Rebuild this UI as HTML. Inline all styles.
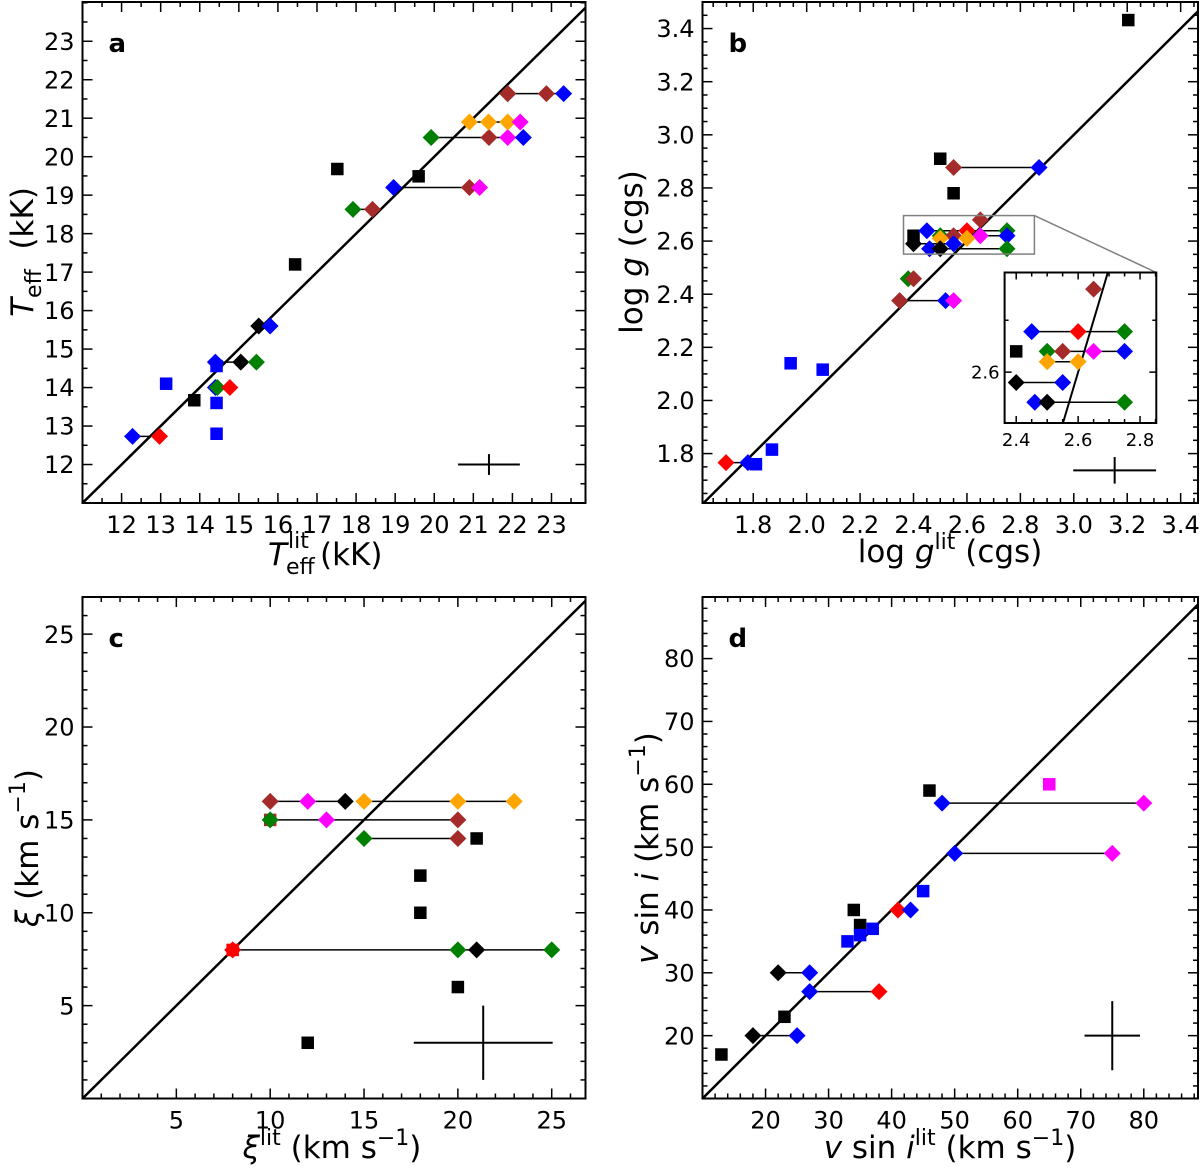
<!DOCTYPE html>
<html><head><meta charset="utf-8"><style>
html,body{margin:0;padding:0;background:#fff;overflow:hidden;width:1200px;height:1169px;}
svg{display:block;font-family:"DejaVu Sans","Liberation Sans",sans-serif;}
</style></head><body>
<svg id="fig" width="1200" height="1169" viewBox="0 0 1200 1169" xmlns="http://www.w3.org/2000/svg">
<g>
<g transform="translate(33,252) rotate(-90)">
<text x="0" y="0" text-anchor="middle" font-size="31"><tspan font-style="italic">T</tspan><tspan font-size="22" dy="8">eff</tspan><tspan dy="-8" xml:space="preserve">  (kK)</tspan></text>
</g>
<g>
<text x="268" y="565" font-size="31" font-style="italic">T</text>
<text x="288" y="548" font-size="22">lit</text>
<text x="286" y="574" font-size="22">eff</text>
<text x="320" y="565" font-size="31">(kK)</text>
</g>
</g>
<g>
<text transform="translate(642,252) rotate(-90)" text-anchor="middle" font-size="31">log <tspan font-style="italic">g</tspan> (cgs)</text>
<text x="950" y="562" text-anchor="middle" font-size="31">log  <tspan font-style="italic">g</tspan><tspan font-size="22" dy="-13">lit</tspan><tspan dy="13"> (cgs)</tspan></text>
</g>
<g>
<text transform="translate(38,848) rotate(-90)" text-anchor="middle" font-size="31"><tspan font-style="italic">ξ</tspan> (km s<tspan font-size="22" dy="-13">−1</tspan><tspan dy="13">)</tspan></text>
<text x="332" y="1158" text-anchor="middle" font-size="31"><tspan font-style="italic">ξ</tspan><tspan font-size="22" dy="-13">lit</tspan><tspan dy="13"> (km s</tspan><tspan font-size="22" dy="-13">−1</tspan><tspan dy="13">)</tspan></text>
</g>
<g>
<text transform="translate(658,848) rotate(-90)" text-anchor="middle" font-size="31"><tspan font-style="italic">v</tspan> sin <tspan font-style="italic">i</tspan> (km s<tspan font-size="22" dy="-13">−1</tspan><tspan dy="13">)</tspan></text>
<text x="950" y="1158" text-anchor="middle" font-size="31"><tspan font-style="italic">v</tspan> sin <tspan font-style="italic">i</tspan><tspan font-size="22" dy="-13">lit</tspan><tspan dy="13"> (km s</tspan><tspan font-size="22" dy="-13">−1</tspan><tspan dy="13">)</tspan></text>
</g>
</svg>
<script>
// ---------- Panel a data ----------
const aGroupY = [12.73, 14.66, 14.0, 15.6, 18.63, 19.2, 20.5, 20.9, 21.64];
const aGroupX = [[12.28,12.97],[14.4,15.05,15.45],[14.4,14.45,14.77],[15.51,15.8],[17.92,18.42],[18.96,20.9,21.16],[19.92,21.4,21.88,22.28],[20.9,21.39,21.88,22.2],[21.88,21.88,22.87,23.31]];
const aGroupC = [["b","r"],["b","k","g"],["b","g","r"],["k","b"],["g","br"],["b","br","m"],["g","br","m","b"],["o","o","o","m"],["k","br","br","b"]];
const aSqX = [13.14, 13.86, 14.43, 14.43, 14.43, 16.44, 17.52, 19.6];
const aSqY = [14.1, 13.67, 14.56, 13.6, 12.8, 17.2, 19.68, 19.49];
const aSqC = ["b","k","b","b","b","k","k","k"];
const aErr = [21.4, 12.0, 0.79, 0.27];
const aXTicks = [12,13,14,15,16,17,18,19,20,21,22,23];
const aYTicks = [12,13,14,15,16,17,18,19,20,21,22,23];

// ---------- Panel b data ----------
const bGroupY = [1.766, 2.376, 2.458, 2.877, 2.68, 2.639, 2.62, 2.61, 2.59, 2.571];
const bGroupX = [[1.698,1.78],[2.348,2.52,2.55],[2.38,2.40],[2.55,2.87],[2.65],[2.45,2.6,2.75],[2.5,2.55,2.65,2.75],[2.5,2.6],[2.4,2.55],[2.46,2.5,2.75]];
const bGroupC = [["r","b"],["br","b","m"],["g","br"],["br","b"],["br"],["b","r","g"],["g","br","m","b"],["o","o"],["k","b"],["b","k","g"]];
const bSqX = [1.81, 1.87, 1.94, 2.06, 2.5, 2.55, 2.4, 3.204];
const bSqY = [1.76, 1.815, 2.14, 2.116, 2.91, 2.78, 2.62, 3.432];
const bSqC = ["b","b","b","b","k","k","k","k"];
const bErr = [3.153, 1.737, 0.155, 0.05];
const bXTicks = [1.8,2.0,2.2,2.4,2.6,2.8,3.0,3.2,3.4];
const bYTicks = [1.8,2.0,2.2,2.4,2.6,2.8,3.0,3.2,3.4];
const bInsetXTicks = [2.4,2.6,2.8];
const bInsetYTicks = [2.6];

// ---------- Panel c data ----------
const cGroupY = [16, 16, 15, 14, 8];
const cGroupX = [[10,12,14],[15,20,23],[10,13,20],[15,20],[8,20,21,25]];
const cGroupC = [["br","m","k"],["o","o","o"],["g","m","br"],["g","br"],["r","g","k","g"]];
const cSqX = [10, 21, 18, 18, 20, 12, 8];
const cSqY = [15, 14, 12, 10, 6, 3, 8];
const cSqC = ["br","k","k","k","k","k","r"];
const cErr = [21.35, 3, 3.7, 2];
const cXTicks = [5,10,15,20,25];
const cYTicks = [5,10,15,20,25];

// ---------- Panel d data ----------
const dGroupY = [20, 30, 27, 40, 57, 49];
const dGroupX = [[18,25],[22,27],[27,38],[41,43],[48,80],[50,75]];
const dGroupC = [["k","b"],["k","b"],["b","r"],["r","b"],["b","m"],["b","m"]];
const dSqX = [13, 23, 35, 34, 33, 35, 37, 45, 46, 65];
const dSqY = [17, 23, 37.6, 40, 35, 36, 37, 43, 59, 60];
const dSqC = ["k","k","k","k","b","b","b","b","k","m"];
const dErr = [75, 20, 4.4, 5.5];
const dXTicks = [20,30,40,50,60,70,80];
const dYTicks = [20,30,40,50,60,70,80];

const COL = {b:"#0000ff", r:"#ff0000", g:"#008000", br:"#a52a2a", m:"#ff00ff", o:"#ffa500", k:"#000000"};
const NS = "http://www.w3.org/2000/svg";
const svg = document.getElementById("fig");

function mk(tag, attrs, parent){
  const e = document.createElementNS(NS, tag);
  for (const k in attrs) e.setAttribute(k, attrs[k]);
  parent.appendChild(e);
  return e;
}

function panel(cfg){
  const g = mk("g", {}, svg);
  
  
  const X = v => cfg.x0 + (v - cfg.dx[0]) / (cfg.dx[1] - cfg.dx[0]) * (cfg.x1 - cfg.x0);
  const Y = v => cfg.y1 - (v - cfg.dy[0]) / (cfg.dy[1] - cfg.dy[0]) * (cfg.y1 - cfg.y0);
  const clipId = "clip" + cfg.id;
  const cp = mk("clipPath", {id: clipId}, g);
  mk("rect", {x: cfg.x0, y: cfg.y0, width: cfg.x1 - cfg.x0, height: cfg.y1 - cfg.y0}, cp);
  const plot = mk("g", {"clip-path": "url(#" + clipId + ")"}, g);
  const lo = Math.max(cfg.dx[0], cfg.dy[0]), hi = Math.min(cfg.dx[1], cfg.dy[1]) + 1;
  const diag = mk("line", {x1: X(lo), y1: Y(lo), x2: X(hi), y2: Y(hi), stroke: "#000", "stroke-width": cfg.inset ? 2 : 2.5}, plot);
  
  
  cfg.gy.forEach((yv, i) => {
    const xs = cfg.gx[i];
    if (xs.length > 1) {
      const mn = Math.min(...xs), mx = Math.max(...xs);
      const ln = mk("line", {x1: X(mn), y1: Y(yv), x2: X(mx), y2: Y(yv), stroke: "#000", "stroke-width": 1.5}, plot);
      
      
    }
  });
  const ds = 8.5, ss = 12.5;
  cfg.sx.forEach((xv, i) => {
    const r = mk("rect", {x: X(xv) - ss/2, y: Y(cfg.sy[i]) - ss/2, width: ss, height: ss, fill: COL[cfg.sc[i]]}, plot);
    
    
  });
  cfg.gy.forEach((yv, i) => {
    cfg.gx[i].forEach((xv, j) => {
      const cx = X(xv), cy = Y(yv);
      const p = mk("polygon", {points: `${cx},${cy-ds} ${cx+ds},${cy} ${cx},${cy+ds} ${cx-ds},${cy}`, fill: COL[cfg.gc[i][j]]}, plot);
      
      
    });
  });
  mk("rect", {x: cfg.x0, y: cfg.y0, width: cfg.x1 - cfg.x0, height: cfg.y1 - cfg.y0, fill: "none", stroke: "#000", "stroke-width": 2}, g);
  const tk = mk("g", {stroke: "#000", "stroke-width": 1.5}, g);
  const maj = cfg.inset ? 7 : 10, mnr = cfg.inset ? 4 : 5;
  for (let v = Math.ceil(cfg.dx[0] / cfg.mx - 1e-9) * cfg.mx; v <= cfg.dx[1] + 1e-9; v += cfg.mx) {
    const isMaj = cfg.xt.some(t => Math.abs(t - v) < 1e-6) || (cfg.majx && Math.abs(Math.round(v / cfg.majx) * cfg.majx - v) < 1e-6);
    const L = isMaj ? maj : mnr, px = X(v);
    mk("line", {x1: px, y1: cfg.y1, x2: px, y2: cfg.y1 - L}, tk);
    mk("line", {x1: px, y1: cfg.y0, x2: px, y2: cfg.y0 + L}, tk);
  }
  for (let v = Math.ceil(cfg.dy[0] / cfg.my - 1e-9) * cfg.my; v <= cfg.dy[1] + 1e-9; v += cfg.my) {
    const isMaj = cfg.yt.some(t => Math.abs(t - v) < 1e-6) || (cfg.majy && Math.abs(Math.round(v / cfg.majy) * cfg.majy - v) < 1e-6);
    const L = isMaj ? maj : mnr, py = Y(v);
    mk("line", {x1: cfg.x0, y1: py, x2: cfg.x0 + L, y2: py}, tk);
    mk("line", {x1: cfg.x1, y1: py, x2: cfg.x1 - L, y2: py}, tk);
  }
  const fs = cfg.inset ? 18 : 24;
  cfg.xt.forEach(v => {
    const t = mk("text", {x: X(v), y: cfg.y1 + (cfg.inset ? 23 : 30), "text-anchor": "middle", "font-size": fs}, g);
    t.textContent = cfg.fmt(v);
    
    
  });
  cfg.yt.forEach(v => {
    const t = mk("text", {x: cfg.x0 - (cfg.inset ? 5 : 8), y: Y(v) + fs * 0.36, "text-anchor": "end", "font-size": fs}, g);
    t.textContent = cfg.fmt(v);
    
    
  });
  if (cfg.err) {
    const e = cfg.err;
    const eg = mk("g", {stroke: "#000", "stroke-width": 2}, g);
    
    
    mk("line", {x1: X(e[0] - e[2]), y1: Y(e[1]), x2: X(e[0] + e[2]), y2: Y(e[1])}, eg);
    mk("line", {x1: X(e[0]), y1: Y(e[1] - e[3]), x2: X(e[0]), y2: Y(e[1] + e[3])}, eg);
  }
  if (cfg.letter) {
    const t = mk("text", {x: cfg.x0 + 26, y: cfg.y0 + 50, "font-size": 26, "font-weight": "bold"}, g);
    t.textContent = cfg.letter;
    
    
  }
  return {X, Y};
}

const fInt = v => String(v);
const f1 = v => v.toFixed(1);

panel({id:"a", x0:82.5, x1:585.5, y0:2, y1:503, dx:[11,23.87], dy:[11,24.02], mx:0.5, my:0.5,
  xt:aXTicks, yt:aYTicks, fmt:fInt, gy:aGroupY, gx:aGroupX, gc:aGroupC, sx:aSqX, sy:aSqY, sc:aSqC, err:aErr, letter:"a"});
const pb = panel({id:"b", x0:702.5, x1:1198, y0:2, y1:503, dx:[1.61,3.465], dy:[1.614,3.50], mx:0.05, my:0.05,
  xt:bXTicks, yt:bYTicks, fmt:f1, gy:bGroupY, gx:bGroupX, gc:bGroupC, sx:bSqX, sy:bSqY, sc:bSqC, err:bErr, letter:"b"});
const ir = {dx:[2.3625,2.8525], dy:[2.551,2.696]};
const zr = mk("rect", {x: pb.X(ir.dx[0]), y: pb.Y(ir.dy[1]), width: pb.X(ir.dx[1]) - pb.X(ir.dx[0]), height: pb.Y(ir.dy[0]) - pb.Y(ir.dy[1]), fill: "none", stroke: "#808080", "stroke-width": 1.5}, svg);


const zc = mk("line", {x1: pb.X(ir.dx[1]), y1: pb.Y(ir.dy[1]), x2: 1156.3, y2: 272.5, stroke: "#808080", "stroke-width": 1.5}, svg);


mk("rect", {x:1004.6, y:272.5, width:151.7, height:150.5, fill:"#fff"}, svg);
panel({id:"b-inset", inset:true, x0:1004.6, x1:1156.3, y0:272.5, y1:423, dx:ir.dx, dy:ir.dy, mx:0.05, my:0.05,
  xt:bInsetXTicks, yt:bInsetYTicks, fmt:f1, gy:bGroupY, gx:bGroupX, gc:bGroupC, sx:bSqX, sy:bSqY, sc:bSqC});
panel({id:"c", x0:82.5, x1:585.5, y0:597, y1:1098.5, dx:[0,26.8], dy:[0,27], mx:1, my:1,
  xt:cXTicks, yt:cYTicks, fmt:fInt, gy:cGroupY, gx:cGroupX, gc:cGroupC, sx:cSqX, sy:cSqY, sc:cSqC, err:cErr, letter:"c"});
panel({id:"d", x0:702.5, x1:1198, y0:597, y1:1098.5, dx:[10,88.6], dy:[10,89.8], mx:2, my:2, majx:10, majy:10,
  xt:dXTicks, yt:dYTicks, fmt:fInt, gy:dGroupY, gx:dGroupX, gc:dGroupC, sx:dSqX, sy:dSqY, sc:dSqC, err:dErr, letter:"d"});
</script>
</body></html>
